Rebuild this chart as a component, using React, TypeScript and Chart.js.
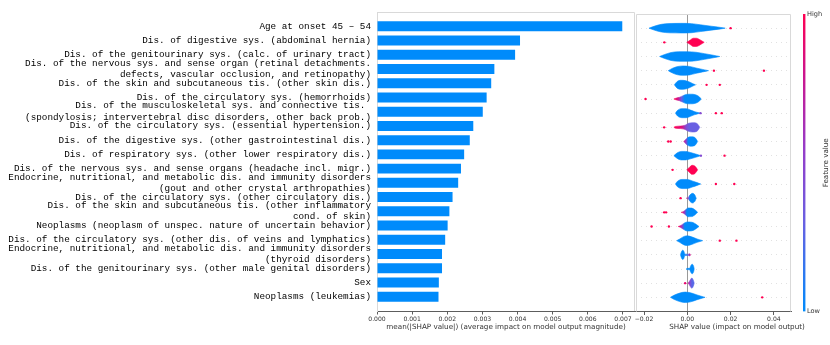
import React, { useEffect, useRef } from 'react';
import { Chart, registerables } from 'chart.js';
Chart.register(...registerables);

// ---------- categories (top to bottom) ----------
const features: string[][] = [
  ['Age at onset 45 – 54'],
  ['Dis. of digestive sys. (abdominal hernia)'],
  ['Dis. of the genitourinary sys. (calc. of urinary tract)'],
  ['Dis. of the nervous sys. and sense organ (retinal detachments.', 'defects, vascular occlusion, and retinopathy)'],
  ['Dis. of the skin and subcutaneous tis. (other skin dis.)'],
  ['Dis. of the circulatory sys. (hemorrhoids)'],
  ['Dis. of the musculoskeletal sys. and connective tis. ', '(spondylosis; intervertebral disc disorders, other back prob.)'],
  ['Dis. of the circulatory sys. (essential hypertension.)'],
  ['Dis. of the digestive sys. (other gastrointestinal dis.)'],
  ['Dis. of respiratory sys. (other lower respiratory dis.)'],
  ['Dis. of the nervous sys. and sense organs (headache incl. migr.)'],
  ['Endocrine, nutritional, and metabolic dis. and immunity disorders', '(gout and other crystal arthropathies)'],
  ['Dis. of the circulatory sys. (other circulatory dis.)'],
  ['Dis. of the skin and subcutaneous tis. (other inflammatory', 'cond. of skin)'],
  ['Neoplasms (neoplasm of unspec. nature of uncertain behavior)'],
  ['Dis. of the circulatory sys. (other dis. of veins and lymphatics)'],
  ['Endocrine, nutritional, and metabolic dis. and immunity disorders', '(thyroid disorders)'],
  ['Dis. of the genitourinary sys. (other male genital disorders)'],
  ['Sex'],
  ['Neoplasms (leukemias)'],
];

// ---------- mean |SHAP| (bar chart) ----------
const meanAbsShap: number[] = [
  0.00698, 0.00407, 0.00393, 0.00334, 0.00325, 0.00312, 0.00301, 0.00274, 0.00264, 0.00248,
  0.00239, 0.00231, 0.00215, 0.00206, 0.00201, 0.00194, 0.00185, 0.00185, 0.00176, 0.00175,
];
const barTicks: number[] = [0, 0.001, 0.002, 0.003, 0.004, 0.005, 0.006, 0.007];
const barMax = 0.007342;

// ---------- SHAP value violins ----------
const shapTicks: number[] = [-0.02, 0, 0.02, 0.04];
const shapMin = -0.0237;
const shapMax = 0.0479;

// SHAP value knots of each violin
const violinX: number[][] = [
  [-0.0177, -0.015, -0.012, -0.008, -0.003, 0.002, 0.006, 0.011, 0.0155, 0.0175],
  [-0.0002, 0.0012, 0.0028, 0.0042, 0.0062, 0.0078],
  [-0.0128, -0.0105, -0.0075, -0.004, 0, 0.004, 0.008, 0.012, 0.015],
  [-0.0088, -0.0068, -0.0045, -0.002, 0.001, 0.004, 0.007, 0.0098],
  [-0.006, -0.0048, -0.003, -0.001, 0.0012, 0.0026, 0.0038],
  [-0.0062, -0.005, -0.0036, -0.0022, -0.0005, 0.0015, 0.0038, 0.0055, 0.0064],
  [-0.0055, -0.0045, -0.0025, -0.0005, 0.0015, 0.0035, 0.005, 0.006],
  [-0.0062, -0.0055, -0.003, -0.001, 0.0005, 0.0025, 0.0045, 0.0058],
  [-0.0016, -0.001, 0.0002, 0.0018, 0.0035, 0.0048],
  [-0.0062, -0.0048, -0.0028, -0.0008, 0.0015, 0.0038, 0.0062],
  [-0.0002, 0.0008, 0.0022, 0.0036, 0.0048],
  [-0.0055, -0.0045, -0.0025, 0, 0.0022, 0.0045, 0.0062],
  [-0.0004, 0.0004, 0.0012, 0.0024, 0.0035, 0.0041],
  [-0.0028, -0.0018, -0.0008, 0.0004, 0.002, 0.0035, 0.0048],
  [-0.0042, -0.003, -0.0018, 0, 0.0022, 0.0042, 0.0054],
  [-0.0049, -0.0035, -0.0015, 0, 0.002, 0.0045, 0.0071],
  [-0.0032, -0.0026, -0.0021, -0.0016, -0.0011, 0.0006, 0.0012, 0.0015],
  [-0.0005, -0.0003, 0.0011, 0.0015, 0.0022, 0.0029, 0.0032],
  [0.0003, 0.0008, 0.0014, 0.0021, 0.0028, 0.0032],
  [-0.0078, -0.0062, -0.0035, -0.001, 0.0015, 0.0045, 0.0068, 0.0082],
];
// density half-width at each knot (in row units)
const violinW: number[][] = [
  [0, 0.15, 0.27, 0.33, 0.34, 0.32, 0.24, 0.14, 0.05, 0],
  [0, 0.14, 0.29, 0.29, 0.15, 0],
  [0, 0.14, 0.28, 0.34, 0.34, 0.3, 0.2, 0.09, 0],
  [0, 0.17, 0.29, 0.33, 0.3, 0.19, 0.09, 0],
  [0, 0.22, 0.32, 0.3, 0.19, 0.08, 0],
  [0, 0.07, 0.12, 0.22, 0.32, 0.34, 0.3, 0.16, 0],
  [0, 0.2, 0.32, 0.32, 0.22, 0.1, 0.04, 0],
  [0, 0.06, 0.09, 0.15, 0.28, 0.33, 0.27, 0],
  [0, 0.1, 0.28, 0.33, 0.28, 0],
  [0, 0.18, 0.3, 0.3, 0.22, 0.12, 0],
  [0, 0.15, 0.32, 0.25, 0],
  [0, 0.2, 0.32, 0.32, 0.22, 0.1, 0],
  [0, 0.04, 0.22, 0.34, 0.22, 0],
  [0, 0.06, 0.18, 0.31, 0.3, 0.18, 0],
  [0, 0.07, 0.2, 0.32, 0.3, 0.14, 0],
  [0, 0.12, 0.3, 0.34, 0.27, 0.12, 0],
  [0, 0.25, 0.33, 0.25, 0.05, 0.05, 0.08, 0],
  [0, 0.04, 0.05, 0.2, 0.34, 0.2, 0],
  [0, 0.08, 0.24, 0.36, 0.2, 0],
  [0, 0.14, 0.3, 0.37, 0.32, 0.17, 0.06, 0],
];
// feature-value level along each violin (SHAP value, level 0=low .. 1=high)
const violinHueX: number[][] = [
  [0], [0], [0], [0], [0],
  [-0.006, -0.0042, -0.0028, -0.0012],
  [0],
  [-0.006, -0.0025, -0.0006, 0.0008],
  [-0.0016, -0.0006, 0.0004],
  [0], [0], [0],
  [-0.0004, 0.0006, 0.0012],
  [-0.0028, -0.0014, -0.0002],
  [-0.0042, -0.0026, -0.0012],
  [0],
  [-0.0014, 0.0002, 0.0014],
  [0],
  [0.0003, 0.0012, 0.0022],
  [0],
];
const violinHueLevel: number[][] = [
  [0], [1], [0], [0], [0],
  [1, 0.8, 0.35, 0],
  [0],
  [1, 0.85, 0.45, 0.3],
  [0.8, 0.5, 0],
  [0], [1], [0],
  [0.8, 0.3, 0],
  [1, 0.6, 0],
  [1, 0.6, 0],
  [0],
  [0, 0.2, 0.8],
  [0],
  [0.8, 0.45, 0.25],
  [0],
];

// outlier points
const dotRow: number[] = [0, 1, 3, 3, 4, 4, 5, 6, 6, 6, 7, 8, 8, 9, 9, 10, 11, 11, 12, 13, 13, 14, 14, 15, 15, 18, 19];
const dotX: number[] = [
  0.02, -0.0106, 0.0123, 0.0354, 0.0089, 0.015, -0.0193, 0.0061, 0.0132, 0.0159, -0.0107, -0.0088, -0.0077,
  0.0063, 0.0172, -0.0068, 0.0132, 0.0217, -0.0031, -0.0107, -0.0098, -0.0165, -0.0085, 0.015, 0.0227, -0.001, 0.0346,
];
const dotLevel: number[] = [1, 1, 1, 1, 1, 1, 1, 0.45, 1, 1, 1, 1, 1, 0.45, 1, 1, 1, 1, 1, 1, 1, 1, 1, 1, 1, 0.9, 1];

// ---------- colour map (SHAP red-blue) ----------
const cmapT = [0, 0.3, 0.55, 0.8, 1];
const cmapRGB = [
  [0, 139, 251],
  [105, 96, 226],
  [150, 60, 200],
  [205, 20, 140],
  [255, 0, 82],
];
function cmap(t: number): string {
  for (let i = 1; i < cmapT.length; i++) {
    if (t <= cmapT[i]) {
      const f = (t - cmapT[i - 1]) / (cmapT[i] - cmapT[i - 1]);
      const a = cmapRGB[i - 1], b = cmapRGB[i];
      const c = a.map((v, k) => Math.round(v + (b[k] - v) * f));
      return `rgb(${c[0]},${c[1]},${c[2]})`;
    }
  }
  const l = cmapRGB[cmapRGB.length - 1];
  return `rgb(${l[0]},${l[1]},${l[2]})`;
}

const TICK_FONT = { family: 'DejaVu Sans', size: 6.1 };
const TITLE_FONT = { family: 'DejaVu Sans', size: 7.2 };
const FRAME = '#d9d9d9';

function framePlugin(color: string) {
  return {
    id: 'frame',
    beforeDatasetsDraw(chart: any) {
      const { ctx, chartArea: a } = chart;
      ctx.save();
      ctx.strokeStyle = color;
      ctx.lineWidth = 1;
      ctx.beginPath();
      ctx.moveTo(a.left + 0.5, a.bottom);
      ctx.lineTo(a.left + 0.5, a.top + 0.5);
      ctx.lineTo(a.right - 0.5, a.top + 0.5);
      ctx.lineTo(a.right - 0.5, a.bottom);
      ctx.stroke();
      ctx.restore();
    },
  };
}

function makeBar(canvas: HTMLCanvasElement) {
  return new Chart(canvas, {
    type: 'bar',
    data: {
      datasets: [
        {
          data: meanAbsShap.map((v, i) => ({ x: v, y: i })),
          backgroundColor: '#008bfb',
          borderWidth: 0,
          barPercentage: 0.7,
          categoryPercentage: 1,
        } as any,
      ],
    },
    plugins: [framePlugin(FRAME)],
    options: {
      indexAxis: 'y',
      animation: false,
      responsive: false,
      events: [],
      layout: { padding: { top: 12, right: 5, left: 0, bottom: 0 } },
      plugins: { legend: { display: false }, tooltip: { enabled: false } },
      scales: {
        x: {
          type: 'linear',
          min: 0,
          max: barMax,
          afterBuildTicks: (s: any) => {
            s.ticks = barTicks.map((v) => ({ value: v }));
          },
          afterFit: (s: any) => {
            s.height = 34;
          },
          ticks: {
            callback: (v: any) => Number(v).toFixed(3),
            font: TICK_FONT,
            color: '#333',
            padding: 1,
            maxRotation: 0,
            autoSkip: false,
          },
          grid: { drawOnChartArea: false, tickLength: 3.5, tickColor: '#333', tickWidth: 0.8 },
          border: { color: '#333', width: 0.8 },
          title: {
            display: true,
            text: 'mean(|SHAP value|) (average impact on model output magnitude)',
            font: TITLE_FONT,
            color: '#333',
            padding: { top: 0, bottom: 13.7 },
          },
        },
        y: {
          type: 'linear',
          min: -1,
          max: 20,
          reverse: true,
          offset: false,
          afterBuildTicks: (s: any) => {
            s.ticks = features.map((_, i) => ({ value: i }));
          },
          afterFit: (s: any) => {
            s.width = 377;
          },
          ticks: {
            autoSkip: false,
            callback: (v: any) => features[v] ?? '',
            font: { family: 'Liberation Mono', size: 9.3, lineHeight: 1.22 },
            color: '#000',
            padding: 6,
          },
          grid: { display: false, drawTicks: false, offset: false },
          border: { color: FRAME },
        },
      },
    } as any,
  });
}

function fillFor(r: number) {
  return (c: any) => {
    const hx = violinHueX[r], hl = violinHueLevel[r];
    if (hx.length === 1) return cmap(hl[0]);
    const chart = c.chart;
    const xs = chart && chart.scales ? chart.scales.x : null;
    if (!chart || !chart.chartArea || !xs) return cmap(hl[0]);
    const p0 = xs.getPixelForValue(hx[0]);
    const p1 = xs.getPixelForValue(hx[hx.length - 1]);
    const g = chart.ctx.createLinearGradient(p0, 0, p1, 0);
    hx.forEach((v, i) => {
      const t = Math.min(1, Math.max(0, (xs.getPixelForValue(v) - p0) / (p1 - p0)));
      g.addColorStop(t, cmap(hl[i]));
    });
    return g;
  };
}

function makeViolin(canvas: HTMLCanvasElement) {
  const datasets: any[] = [
    {
      data: dotX.map((v, i) => ({ x: v, y: dotRow[i] })),
      showLine: false,
      pointRadius: 1.2,
      pointBackgroundColor: dotLevel.map(cmap),
      pointBorderWidth: 0,
      fill: false,
    },
  ];
  violinX.forEach((xsArr, r) => {
    const w = violinW[r];
    const col = fillFor(r);
    datasets.push({
      data: xsArr.map((v, i) => ({ x: v, y: r - w[i] })),
      borderColor: col,
      backgroundColor: col,
      borderWidth: 0.6,
      pointRadius: 0,
      fill: false,
      cubicInterpolationMode: 'monotone',
    });
    datasets.push({
      data: xsArr.map((v, i) => ({ x: v, y: r + w[i] })),
      borderColor: col,
      backgroundColor: col,
      borderWidth: 0.6,
      pointRadius: 0,
      fill: '-1',
      cubicInterpolationMode: 'monotone',
    });
  });

  const titlePlugin = {
    id: 'shapTitle',
    afterDraw(chart: any) {
      const { ctx } = chart;
      ctx.save();
      ctx.font = `${TITLE_FONT.size}px "${TITLE_FONT.family}"`;
      ctx.fillStyle = '#333';
      ctx.textAlign = 'center';
      ctx.textBaseline = 'middle';
      ctx.fillText('SHAP value (impact on model output)', 107, 327);
      ctx.restore();
    },
  };

  return new Chart(canvas, {
    type: 'line',
    data: { datasets },
    plugins: [framePlugin(FRAME), titlePlugin],
    options: {
      animation: false,
      responsive: false,
      events: [],
      layout: { padding: { left: 6, top: 14, right: 39, bottom: 0 } },
      plugins: { legend: { display: false }, tooltip: { enabled: false } },
      scales: {
        x: {
          type: 'linear',
          min: shapMin,
          max: shapMax,
          afterBuildTicks: (s: any) => {
            s.ticks = shapTicks.map((v) => ({ value: v }));
          },
          afterFit: (s: any) => {
            s.height = 33.5;
          },
          ticks: {
            callback: (v: any) => {
              const n = Number(v);
              const t = Math.abs(n).toFixed(2);
              return n < -1e-9 ? '\u2212' + t : t;
            },
            font: TICK_FONT,
            color: '#333',
            padding: 1,
            maxRotation: 0,
            autoSkip: false,
          },
          grid: {
            color: (c: any) => (c.tick && Math.abs(c.tick.value) < 1e-9 ? '#999' : 'rgba(0,0,0,0)'),
            lineWidth: 1,
            tickColor: '#333',
            tickLength: 3.5,
            tickWidth: 0.8,
          },
          border: { color: '#333', width: 0.8 },
        },
        y: {
          type: 'linear',
          min: -1,
          max: 20,
          reverse: true,
          afterBuildTicks: (s: any) => {
            s.ticks = features.map((_, i) => ({ value: i }));
          },
          afterFit: (s: any) => {
            s.width = 0;
          },
          ticks: { display: false },
          grid: { color: '#cccccc', lineWidth: 0.6, drawTicks: false },
          border: { display: false, dash: [1, 4] },
        },
      },
    } as any,
  });
}

function makeColorbar(canvas: HTMLCanvasElement) {
  const labelPlugin = {
    id: 'cbLabel',
    afterDraw(chart: any) {
      const { ctx, chartArea: a } = chart;
      ctx.save();
      ctx.font = `${TITLE_FONT.size}px "${TITLE_FONT.family}"`;
      ctx.fillStyle = '#333';
      ctx.textAlign = 'center';
      ctx.textBaseline = 'middle';
      ctx.translate(31.5, (a.top + a.bottom) / 2);
      ctx.rotate(-Math.PI / 2);
      ctx.fillText('Feature value', 0, 0);
      ctx.restore();
    },
  };
  return new Chart(canvas, {
    type: 'bar',
    data: {
      labels: [''],
      datasets: [
        {
          data: [[0, 1]],
          backgroundColor: (c: any) => {
            const chart = c.chart;
            const a = chart.chartArea;
            if (!a) return cmap(0);
            const g = chart.ctx.createLinearGradient(0, a.bottom, 0, a.top);
            cmapT.forEach((t) => g.addColorStop(t, cmap(t)));
            return g;
          },
          borderWidth: 0,
          barPercentage: 1,
          categoryPercentage: 1,
        } as any,
      ],
    },
    plugins: [labelPlugin],
    options: {
      animation: false,
      responsive: false,
      events: [],
      layout: { padding: { left: 8, top: 14, right: 0, bottom: 33.5 } },
      plugins: { legend: { display: false }, tooltip: { enabled: false } },
      scales: {
        x: { display: false },
        y: {
          position: 'right',
          min: 0,
          max: 1,
          afterBuildTicks: (s: any) => {
            s.ticks = [{ value: 0 }, { value: 1 }];
          },
          afterFit: (s: any) => {
            s.width = 24.5;
          },
          ticks: {
            callback: (v: any) => (v === 1 ? 'High' : v === 0 ? 'Low' : ''),
            font: { family: 'DejaVu Sans', size: 6.6 },
            color: '#333',
            padding: 1.5,
          },
          grid: { display: false, drawTicks: false },
          border: { display: false },
        },
      },
    } as any,
  });
}

export default function App() {
  const barRef = useRef<HTMLCanvasElement>(null);
  const vioRef = useRef<HTMLCanvasElement>(null);
  const cbRef = useRef<HTMLCanvasElement>(null);

  useEffect(() => {
    const charts = [
      makeBar(barRef.current as HTMLCanvasElement),
      makeViolin(vioRef.current as HTMLCanvasElement),
      makeColorbar(cbRef.current as HTMLCanvasElement),
    ];
    return () => charts.forEach((c) => c.destroy());
  }, []);

  return (
    <div style={{ position: 'absolute', left: 0, top: 0, width: 830, height: 345, background: '#fff', overflow: 'hidden' }}>
      <canvas ref={barRef} width={640} height={345} style={{ position: 'absolute', left: 0, top: 0 }} />
      <canvas ref={vioRef} width={200} height={345} style={{ position: 'absolute', left: 630, top: 0 }} />
      <canvas ref={cbRef} width={35} height={345} style={{ position: 'absolute', left: 795, top: 0 }} />
    </div>
  );
}
